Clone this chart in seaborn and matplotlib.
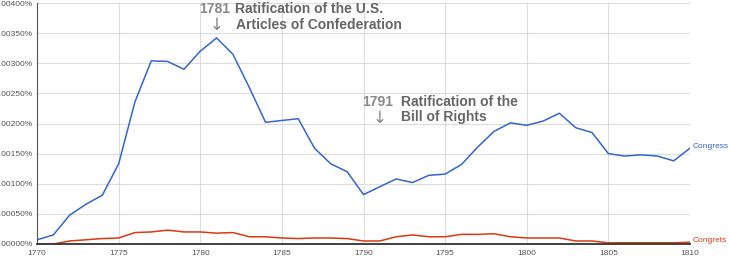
import pandas as pd
import matplotlib.pyplot as plt
import matplotlib.ticker as mticker
import seaborn as sns

years = list(range(1770, 1811))

congress = [0.00007, 0.00015, 0.00048, 0.00066, 0.00081, 0.00133, 0.00236, 0.00304, 0.00303, 0.00290,
            0.00320, 0.00342, 0.00315, 0.00260, 0.00202, 0.00205, 0.00208, 0.00159, 0.00133, 0.00120,
            0.00082, 0.00095, 0.00108, 0.00102, 0.00114, 0.00116, 0.00132, 0.00161, 0.00187, 0.00201,
            0.00197, 0.00204, 0.00217, 0.00193, 0.00185, 0.00150, 0.00146, 0.00148, 0.00146, 0.00138,
            0.00159]

congrets = [0.00000, 0.00000, 0.00005, 0.00007, 0.00009, 0.00010, 0.00019, 0.00020, 0.00023, 0.00020,
            0.00020, 0.00018, 0.00019, 0.00012, 0.00012, 0.00010, 0.00009, 0.00010, 0.00010, 0.00009,
            0.00005, 0.00005, 0.00012, 0.00015, 0.00012, 0.00012, 0.00016, 0.00016, 0.00017, 0.00012,
            0.00010, 0.00010, 0.00010, 0.00005, 0.00005, 0.00002, 0.00002, 0.00002, 0.00002, 0.00002,
            0.00003]

series_names = ["Congress", "Congrets"]
series_colors = ["#3366cc", "#dc3912"]

df = pd.DataFrame({
    "year": years * 2,
    "freq": congress + congrets,
    "word": ["Congress"] * len(years) + ["Congrets"] * len(years),
})

sns.set_style("white")
plt.rcParams["font.family"] = ["Liberation Sans", "DejaVu Sans"]

fig = plt.figure(figsize=(7.3, 2.64), dpi=100)
ax = fig.add_axes([37 / 730, 20 / 264, 653 / 730, 241 / 264])

sns.lineplot(data=df, x="year", y="freq", hue="word", hue_order=series_names,
             palette=series_colors, linewidth=1.1, legend=False, ax=ax)

ax.set_xlim(1770, 1810)
ax.set_ylim(0, 0.004)
ax.xaxis.set_major_locator(mticker.MultipleLocator(5))
ax.yaxis.set_major_locator(mticker.MultipleLocator(0.0005))
ax.yaxis.set_major_formatter(mticker.FuncFormatter(lambda v, p: f"{v:.5f}%"))
ax.grid(True, color="#dddddd", linewidth=0.8)
ax.set_xlabel("")
ax.set_ylabel("")
ax.tick_params(axis="both", labelsize=6, colors="#555555", length=0)
ax.tick_params(axis="x", pad=4)
ax.tick_params(axis="y", pad=3)

for s in ["top", "right"]:
    ax.spines[s].set_visible(False)
ax.spines["left"].set_color("#555555")
ax.spines["bottom"].set_color("#333333")
ax.spines["bottom"].set_linewidth(1.3)

# series labels at the right end
ax.text(1810.15, 0.00161, "Congress", color=series_colors[0], fontsize=6, va="center")
ax.text(1810.15, 0.00005, "Congrets", color=series_colors[1], fontsize=6, va="center")

# event annotations
note_kw = dict(fontsize=10, fontweight="bold", color="#666666", va="center", ha="left")
year_kw = dict(fontsize=10, fontweight="bold", color="#888888", va="center", ha="right")
arrow_kw = dict(fontsize=12, color="#888888", va="center", ha="center", family="DejaVu Sans")

ax.text(1781.85, 0.00390, "1781", **year_kw)
ax.text(1781.0, 0.00363, "↓", **arrow_kw)
ax.text(1782.1, 0.00390, "Ratification of the U.S.", **note_kw)
ax.text(1782.2, 0.00364, "Articles of Confederation", **note_kw)

ax.text(1791.8, 0.002355, "1791", **year_kw)
ax.text(1791.0, 0.00209, "↓", **arrow_kw)
ax.text(1792.3, 0.002355, "Ratification of the", **note_kw)
ax.text(1792.3, 0.002106, "Bill of Rights", **note_kw)

fig.savefig("out.png", dpi=100)
